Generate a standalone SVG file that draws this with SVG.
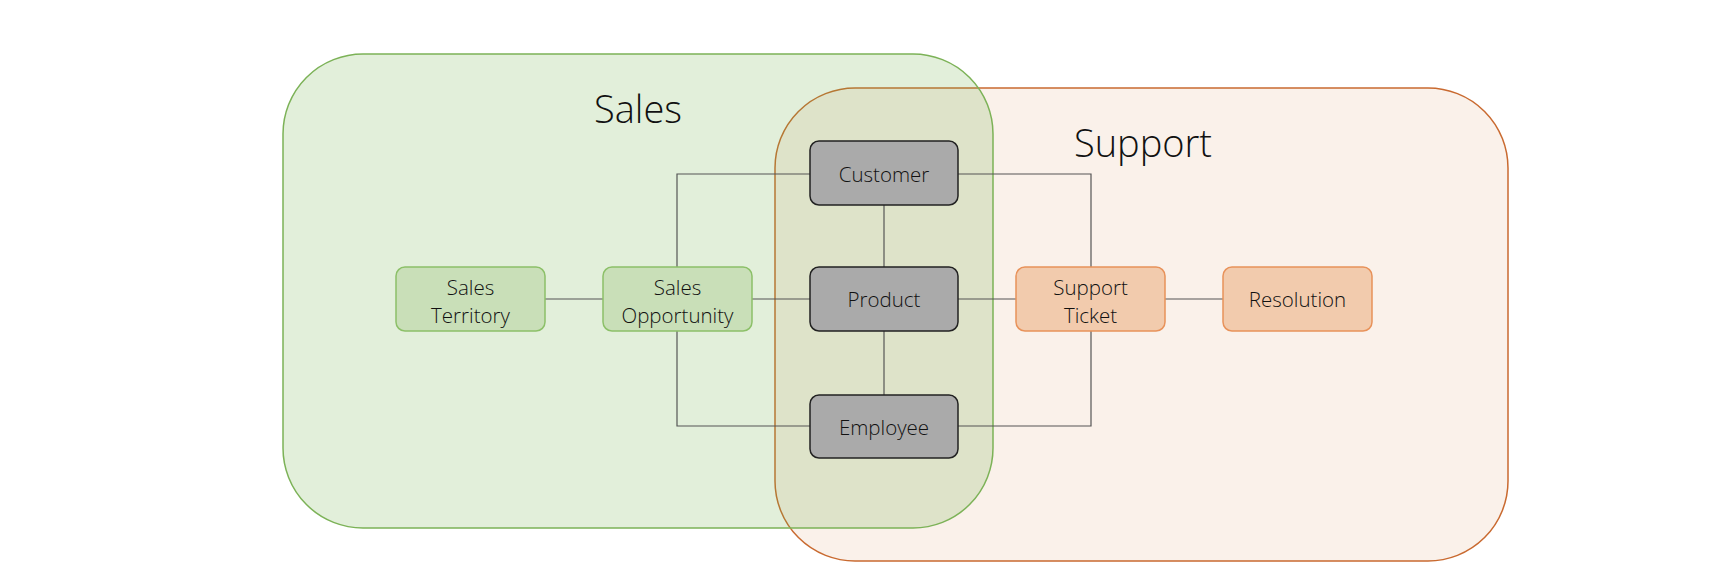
<svg xmlns="http://www.w3.org/2000/svg" width="1726" height="588" viewBox="0 0 1726 588">
<style>
.title{font-family:"Open Sans","Liberation Sans",sans-serif;font-weight:300;font-size:38px;fill:#111;text-anchor:middle}
.lbl{font-family:"Open Sans","Liberation Sans",sans-serif;font-weight:350;font-size:20.5px;fill:#111;text-anchor:middle}
.core{fill:#aaaaaa;stroke:#222;stroke-width:1.5}
.sales{fill:#c9dfb8;stroke:#8cc068;stroke-width:1.5}
.supp{fill:#f2cbad;stroke:#e8925a;stroke-width:1.5}
.conn{fill:none;stroke:#555;stroke-width:1.2}
</style>
<rect width="1726" height="588" fill="#fff"/>
<g id="support-area">
<rect x="775" y="88" width="733" height="473" rx="80" ry="80" fill="#faf1ea" stroke="#c96a30" stroke-width="1.5"/>
<text class="title" x="1143" y="157">Support</text>
</g>
<g id="sales-area">
<rect x="283" y="54" width="710" height="474" rx="80" ry="80" fill="#70ad47" fill-opacity="0.2" stroke="#7cb257" stroke-width="1.5"/>
<text class="title" x="638" y="123">Sales</text>
</g>
<g id="connectors">
<path class="conn" d="M677 267V174H810"/>
<path class="conn" d="M677 331V426H810"/>
<path class="conn" d="M958 174H1091V267"/>
<path class="conn" d="M958 426H1091V331"/>
<path class="conn" d="M884 205V267"/>
<path class="conn" d="M884 331V395"/>
<path class="conn" d="M545 299H603"/>
<path class="conn" d="M752 299H810"/>
<path class="conn" d="M958 299H1016"/>
<path class="conn" d="M1165 299H1223"/>
</g>
<g id="customer">
<rect class="core" x="810" y="141" width="148" height="64" rx="9"/>
<text class="lbl" x="884" y="182">Customer</text>
</g>
<g id="product">
<rect class="core" x="810" y="267" width="148" height="64" rx="9"/>
<text class="lbl" x="884" y="307">Product</text>
</g>
<g id="employee">
<rect class="core" x="810" y="395" width="148" height="63" rx="9"/>
<text class="lbl" x="884" y="435">Employee</text>
</g>
<g id="sales-territory">
<rect class="sales" x="396" y="267" width="149" height="64" rx="9"/>
<text class="lbl" x="470.5" y="295">Sales</text>
<text class="lbl" x="470.5" y="323">Territory</text>
</g>
<g id="sales-opportunity">
<rect class="sales" x="603" y="267" width="149" height="64" rx="9"/>
<text class="lbl" x="677.5" y="295">Sales</text>
<text class="lbl" x="677.5" y="323">Opportunity</text>
</g>
<g id="support-ticket">
<rect class="supp" x="1016" y="267" width="149" height="64" rx="9"/>
<text class="lbl" x="1090.5" y="295">Support</text>
<text class="lbl" x="1090.5" y="323">Ticket</text>
</g>
<g id="resolution">
<rect class="supp" x="1223" y="267" width="149" height="64" rx="9"/>
<text class="lbl" x="1297.5" y="307">Resolution</text>
</g>
</svg>
